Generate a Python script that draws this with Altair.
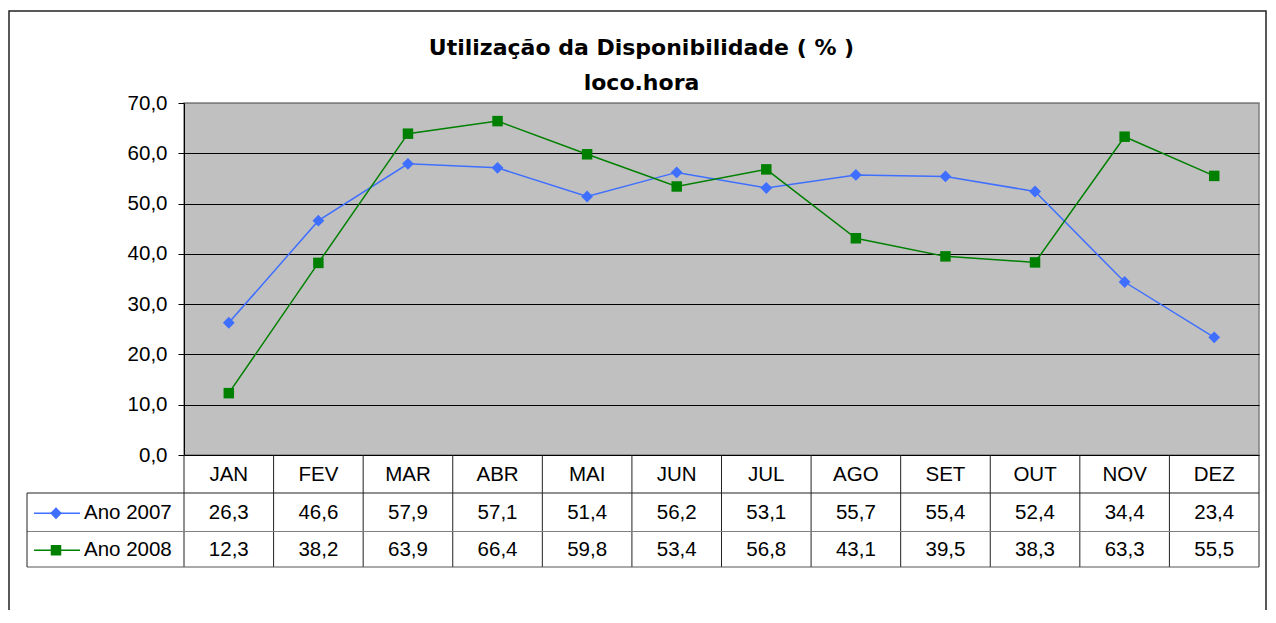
import altair as alt
import pandas as pd

# ---- data -------------------------------------------------------------
months = ["JAN", "FEV", "MAR", "ABR", "MAI", "JUN", "JUL", "AGO", "SET", "OUT", "NOV", "DEZ"]
ano_2007 = [26.3, 46.6, 57.9, 57.1, 51.4, 56.2, 53.1, 55.7, 55.4, 52.4, 34.4, 23.4]
ano_2008 = [12.3, 38.2, 63.9, 66.4, 59.8, 53.4, 56.8, 43.1, 39.5, 38.3, 63.3, 55.5]
series_names = ["Ano 2007", "Ano 2008"]
title_lines = ["Utilização da Disponibilidade ( % )", "loco.hora"]
y_ticks = [0, 10, 20, 30, 40, 50, 60, 70]

# ---- style --------------------------------------------------------------
BLUE = "#3F6FFF"
GREEN = "#008000"
FONT = "Liberation Sans"
FS = 20.5
W, H = 1075, 352

rows = []
for name, vals in zip(series_names, [ano_2007, ano_2008]):
    for i, (m, v) in enumerate(zip(months, vals)):
        rows.append({"idx": i, "month": m, "series": name, "value": v,
                     "label": f"{v:.1f}".replace(".", ",")})
df = pd.DataFrame(rows)
df_months = pd.DataFrame({"idx": list(range(len(months))), "month": months})
df_bounds = pd.DataFrame({"b": [k - 0.5 for k in range(len(months) + 1)]})
one = pd.DataFrame({"k": [0]})

xscale = alt.Scale(domain=[-0.5, len(months) - 0.5], nice=False, zero=False)
X = alt.X("idx:Q", scale=xscale, axis=None)
color = alt.Color("series:N", scale=alt.Scale(domain=series_names, range=[BLUE, GREEN]), legend=None)
shape = alt.Shape("series:N", scale=alt.Scale(domain=series_names, range=["diamond", "square"]), legend=None)
size = alt.Size("series:N", scale=alt.Scale(domain=series_names, range=[140, 110]), legend=None)

# outer frame
frame = alt.Chart(one).mark_rect(fill=None, stroke="#222222", strokeWidth=1.5).encode(
    x=alt.value(-175), x2=alt.value(W + 7), y=alt.value(-92), y2=alt.value(H + 200)
)

# title
t1 = alt.Chart(one).mark_text(font="DejaVu Sans", fontSize=22, fontWeight="bold",
                              align="center", baseline="alphabetic", color="black").encode(
    x=alt.value(457.5), y=alt.value(-48), text=alt.value(title_lines[0]))
t2 = alt.Chart(one).mark_text(font="DejaVu Sans", fontSize=22, fontWeight="bold",
                              align="center", baseline="alphabetic", color="black").encode(
    x=alt.value(457.5), y=alt.value(-13), text=alt.value(title_lines[1]))

yaxis = alt.Axis(
    values=y_ticks,
    labelExpr="replace(format(datum.value, '.1f'), '.', ',')",
    title=None, domainColor="black", domainWidth=1,
    tickColor="black", tickSize=6, tickWidth=1,
    grid=True,
    gridColor=alt.condition("datum.value == 70", alt.value("#808080"), alt.value("black")),
    gridWidth=1, labelFont=FONT, labelFontSize=FS, labelColor="black", labelPadding=11,
)
Y = alt.Y("value:Q", scale=alt.Scale(domain=[0, 70], nice=False), axis=yaxis)

lines = alt.Chart(df).mark_line(strokeWidth=1.5).encode(x=X, y=Y, color=color, detail="series:N")
points = alt.Chart(df).mark_point(filled=True, opacity=1).encode(
    x=X, y=Y, color=color, shape=shape, size=size)

# ---- data table ---------------------------------------------------------
TOP = H            # table top (plot bottom)
R1 = H + 38        # first data row top
R2 = H + 76.5      # second data row top
BOT = H + 112      # table bottom
LEFT = -157        # legend column left edge

vrules = alt.Chart(df_bounds).mark_rule(color="#222222", strokeWidth=1).encode(
    x=alt.X("b:Q", scale=xscale, axis=None), y=alt.value(TOP), y2=alt.value(BOT))

def hrule(y, col):
    return alt.Chart(one).mark_rule(color=col, strokeWidth=1).encode(
        x=alt.value(LEFT), x2=alt.value(W), y=alt.value(y))

leftedge = alt.Chart(one).mark_rule(color="#222222", strokeWidth=1).encode(
    x=alt.value(LEFT), y=alt.value(R1), y2=alt.value(BOT))

header = alt.Chart(df_months).mark_text(font=FONT, fontSize=FS, color="black",
                                        align="center", baseline="middle").encode(
    x=X, y=alt.value((TOP + R1) / 2 + 1), text="month:N")

row_y = {"Ano 2007": (R1 + R2) / 2 + 1, "Ano 2008": (R2 + BOT) / 2 + 1}
cells = []
legend_layers = []
for name, sym, col, sz in zip(series_names, ["diamond", "square"], [BLUE, GREEN], [140, 110]):
    cy = row_y[name]
    cells.append(
        alt.Chart(df[df.series == name]).mark_text(font=FONT, fontSize=FS, color="black",
                                                   align="center", baseline="middle").encode(
            x=X, y=alt.value(cy), text="label:N"))
    leg = pd.DataFrame({"series": [name]})
    legend_layers.append(alt.Chart(leg).mark_rule(color=col, strokeWidth=1.5).encode(
        x=alt.value(-150), x2=alt.value(-104), y=alt.value(cy)))
    legend_layers.append(alt.Chart(leg).mark_point(shape=sym, filled=True, opacity=1,
                                                   size=sz, color=col).encode(
        x=alt.value(-128), y=alt.value(cy)))
    legend_layers.append(alt.Chart(leg).mark_text(font=FONT, fontSize=FS, color="black",
                                                  align="left", baseline="middle").encode(
        x=alt.value(-100), y=alt.value(cy), text="series:N"))

chart = alt.layer(
    frame, t1, t2, lines, points,
    vrules, hrule(R1, "#222222"), hrule(R2, "#808080"), hrule(BOT, "#555555"), leftedge,
    header, *cells, *legend_layers,
).properties(
    width=W, height=H,
    autosize=alt.AutoSizeParams(type="none"),
    padding={"left": 176, "top": 95, "right": 9, "bottom": 155},
    background="white",
).configure_view(
    fill="#C0C0C0", stroke="#808080", strokeWidth=1.5
)

chart.save("out.html", embed_options={"renderer": "svg", "actions": False})
